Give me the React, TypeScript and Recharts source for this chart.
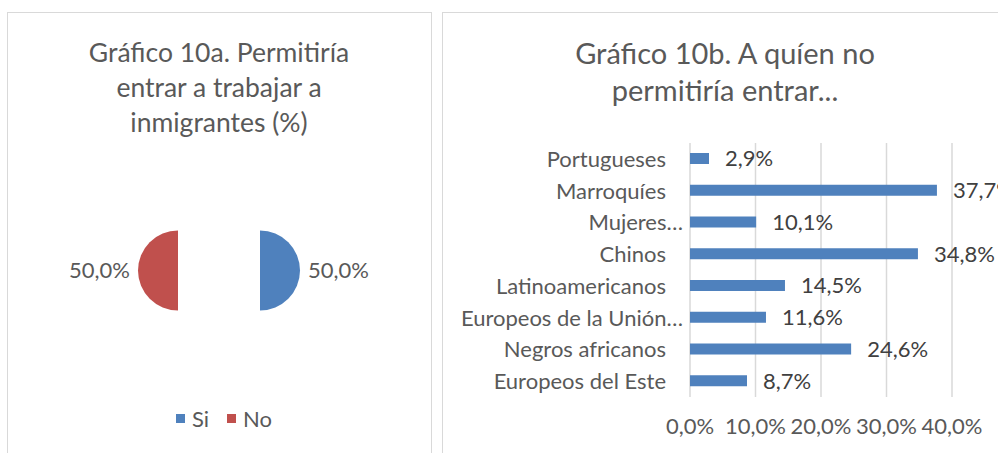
import React from "react";
import {
  PieChart,
  Pie,
  Cell,
  Legend,
  Sector,
  BarChart,
  Bar,
  XAxis,
  YAxis,
  CartesianGrid,
  LabelList,
} from "recharts";

// Gráfico 10a
const answerLabels = ["Si", "No"];
const answerValues = [50.0, 50.0];
const answerColors = ["#4F81BD", "#C0504D"];

// Gráfico 10b
const groupLabels = [
  "Portugueses",
  "Marroquíes",
  "Mujeres…",
  "Chinos",
  "Latinoamericanos",
  "Europeos de la Unión…",
  "Negros africanos",
  "Europeos del Este",
];
const refusedValues = [2.9, 37.7, 10.1, 34.8, 14.5, 11.6, 24.6, 8.7];
const percentTicks = [0, 10, 20, 30, 40];

const FONT = "Lato, 'Open Sans', sans-serif";
const TEXT = "#595959";
const DARK = "#404040";
const BORDER = "#D9D9D9";
const BAR_BLUE = "#4F81BD";

const EXPLODE = 41;
const RAD = Math.PI / 180;

const fmt = (v: number) => `${v.toFixed(1).replace(".", ",")}%`;

const pieData = answerLabels.map((name, i) => ({ name, value: answerValues[i] }));
const barData = groupLabels.map((name, i) => ({ name, value: refusedValues[i] }));

const ExplodedSector = (props: any) => {
  const dx = EXPLODE * Math.cos(-props.midAngle * RAD);
  const dy = EXPLODE * Math.sin(-props.midAngle * RAD);
  return <Sector {...props} cx={props.cx + dx} cy={props.cy + dy} />;
};

const renderPieLabel = (p: any) => {
  const cos = Math.cos(-p.midAngle * RAD);
  const sin = Math.sin(-p.midAngle * RAD);
  const r = p.outerRadius + EXPLODE + 8;
  return (
    <text
      x={p.cx + r * cos}
      y={p.cy + r * sin}
      dy="0.36em"
      textAnchor={cos >= 0 ? "start" : "end"}
      fill={TEXT}
      fontFamily={FONT}
      fontSize={22}
    >
      {fmt(p.value)}
    </text>
  );
};

const PieLegend = (props: any) => {
  const items = [...(props.payload || [])].sort(
    (a: any, b: any) => answerLabels.indexOf(a.value) - answerLabels.indexOf(b.value)
  );
  return (
    <div style={{ display: "flex", justifyContent: "center", fontFamily: FONT, fontSize: 22, color: TEXT }}>
      {items.map((it: any, i: number) => (
        <span key={i} style={{ display: "inline-flex", alignItems: "center", marginRight: i < items.length - 1 ? 18 : 0 }}>
          <span style={{ width: 9, height: 9, background: it.color, display: "inline-block", marginRight: 7 }} />
          {it.value}
        </span>
      ))}
    </div>
  );
};

const GroupTick = (p: any) => {
  const label: string = p.payload.value;
  return (
    <text
      x={p.x}
      y={p.y}
      dx={label.endsWith("…") ? 17 : 0}
      dy="0.36em"
      textAnchor="end"
      fill={TEXT}
      fontFamily={FONT}
      fontSize={22}
    >
      {label}
    </text>
  );
};

const leftTitle = { fontFamily: FONT, fontSize: 26.5, fill: TEXT } as const;
const rightTitle = { fontFamily: FONT, fontSize: 29, fill: TEXT } as const;

export default function App() {
  return (
    <div style={{ position: "absolute", left: 0, top: 0, width: 998, height: 453, overflow: "hidden", background: "#fff" }}>
      <svg width={998} height={453} style={{ position: "absolute", left: 0, top: 0 }}>
        <rect x={7.5} y={12.5} width={424} height={460} fill="none" stroke={BORDER} />
        <rect x={442.5} y={12.5} width={600} height={460} fill="none" stroke={BORDER} />
        <text x={219} y={62} textAnchor="middle" {...leftTitle}>Gráfico 10a. Permitiría</text>
        <text x={219} y={97} textAnchor="middle" {...leftTitle}>entrar a trabajar a</text>
        <text x={219} y={132} textAnchor="middle" {...leftTitle}>inmigrantes (%)</text>
        <text x={725} y={64} textAnchor="middle" {...rightTitle}>Gráfico 10b. A quíen no</text>
        <text x={725} y={101} textAnchor="middle" {...rightTitle}>permitiría entrar...</text>
      </svg>

      <div style={{ position: "absolute", left: 0, top: 0 }}>
        <PieChart width={438} height={453} margin={{ top: 0, right: 0, bottom: 0, left: 0 }}>
          <Pie
            data={pieData}
            dataKey="value"
            nameKey="name"
            cx={219}
            cy={270.5}
            outerRadius={40}
            startAngle={90}
            endAngle={-270}
            stroke="none"
            shape={ExplodedSector}
            label={renderPieLabel}
            labelLine={false}
            isAnimationActive={false}
          >
            {pieData.map((d, i) => (
              <Cell key={d.name} fill={answerColors[i]} />
            ))}
          </Pie>
          <Legend
            content={PieLegend}
            itemSorter={null as any}
            wrapperStyle={{ position: "absolute", left: 0, top: 405, width: 448 }}
          />
        </PieChart>
      </div>

      <div style={{ position: "absolute", left: 442, top: 12 }}>
        <BarChart
          width={556}
          height={441}
          data={barData}
          layout="vertical"
          margin={{ top: 131, right: 46, bottom: 26, left: 0 }}
          barCategoryGap={0}
        >
          <CartesianGrid horizontal={false} stroke={BORDER} strokeWidth={1.5} />
          <XAxis
            type="number"
            domain={[0, 40]}
            ticks={percentTicks}
            tickFormatter={fmt}
            axisLine={false}
            tickLine={false}
            tickSize={0}
            tickMargin={21}
            height={30}
            interval={0}
            tick={{ fill: TEXT, fontFamily: FONT, fontSize: 22 }}
          />
          <YAxis
            type="category"
            dataKey="name"
            width={248}
            axisLine={false}
            tickLine={false}
            tickSize={0}
            tickMargin={24}
            interval={0}
            tick={GroupTick}
          />
          <Bar dataKey="value" fill={BAR_BLUE} barSize={11} isAnimationActive={false}>
            <LabelList
              dataKey="value"
              position="right"
              offset={16}
              formatter={(v: any) => fmt(Number(v))}
              fill={DARK}
              fontFamily={FONT}
              fontSize={22}
            />
          </Bar>
        </BarChart>
      </div>
    </div>
  );
}
